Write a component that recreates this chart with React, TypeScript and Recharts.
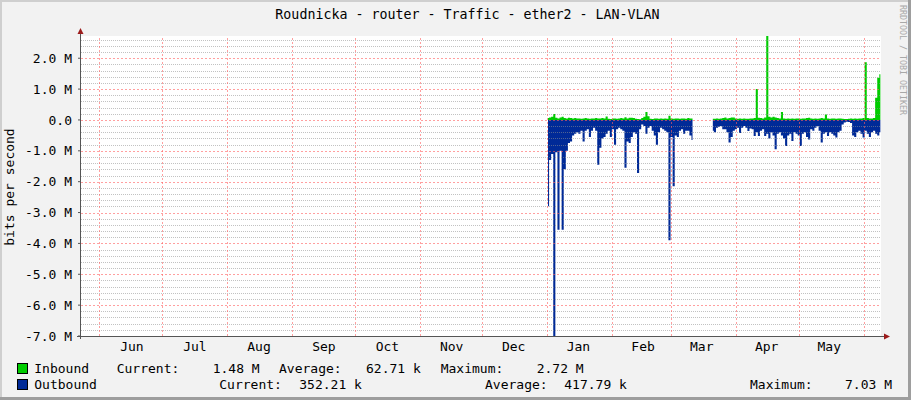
import React from 'react';
import { ComposedChart, Area, XAxis, YAxis, ReferenceLine } from 'recharts';

// one sample per day, values in Mbit/s
const start1 = 223; // first sample, Jan 1
const inbound1 = [
  0.06, 0.08, 0.1, 0.19, 0.07, 0.05, 0.08, 0.1, 0.06, 0.05,
  0.07, 0.06, 0.05, 0.06, 0.05, 0.05, 0.04, 0.05, 0.06, 0.05,
  0.04, 0.05, 0.05, 0.06, 0.05, 0.05, 0.06, 0.05, 0.11, 0.04,
  0.03, 0.05, 0.05, 0.04, 0.05, 0.06, 0.05, 0.09, 0.05, 0.07,
  0.07, 0.06, 0.04, 0.03, 0.02, 0.06, 0.1, 0.26, 0.12, 0.04,
  0.03, 0.05, 0.05, 0.04, 0.05, 0.04, 0.05, 0.04, 0.14, 0.05,
  0.04, 0.05, 0.05, 0.04, 0.05, 0.05, 0.04, 0.06, 0.05, 0.05,
];
const outbound1 = [
  -2.8, -1.3, -1.1, -7.03, -1.05, -3.56, -1.0, -3.56, -1.6, -1.0,
  -0.75, -0.7, -0.5, -0.45, -0.4, -0.45, -0.35, -0.7, -0.35, -0.3,
  -0.55, -0.35, -0.25, -0.35, -1.45, -0.9, -0.6, -0.55, -0.45, -0.35,
  -0.55, -0.3, -0.8, -0.3, -0.25, -0.3, -0.35, -1.55, -0.7, -0.75,
  -0.55, -0.4, -0.45, -1.72, -0.3, -0.15, -0.2, -0.45, -0.25, -0.2,
  -0.35, -0.5, -0.8, -0.4, -0.25, -0.3, -0.35, -0.4, -3.9, -0.55,
  -2.15, -0.5, -0.55, -0.35, -0.3, -0.45, -0.35, -0.35, -0.5, -0.65,
];

const start2 = 301.7; // after the outage in early March
const inbound2 = [
  0.04, 0.04, 0.05, 0.04, 0.05, 0.06, 0.08, 0.05, 0.06, 0.08,
  0.08, 0.05, 0.04, 0.05, 0.04, 0.05, 0.04, 0.04, 0.05, 0.05,
  0.06, 1.0, 0.07, 0.06, 0.05, 0.08, 2.72, 0.1, 0.08, 0.1,
  0.08, 0.06, 0.05, 0.26, 0.05, 0.04, 0.05, 0.04, 0.05, 0.04,
  0.05, 0.05, 0.04, 0.05, 0.05, 0.06, 0.07, 0.05, 0.04, 0.05,
  0.04, 0.05, 0.06, 0.05, 0.18, 0.05, 0.04, 0.05, 0.05, 0.04,
  0.05, 0.05, 0.04, 0.03, 0.03, 0.04, 0.05, 0.04, 0.05, 0.04,
  0.05, 0.05, 0.06, 1.87, 0.06, 0.05, 0.05, 0.06, 0.72, 1.37,
  1.48,
];
const outbound2 = [
  -0.35, -0.4, -0.25, -0.22, -0.2, -0.3, -0.3, -0.4, -0.73, -0.55,
  -0.35, -0.3, -0.25, -0.42, -0.25, -0.2, -0.25, -0.36, -0.28, -0.3,
  -0.52, -0.4, -0.52, -0.35, -0.3, -0.52, -0.45, -0.6, -0.4, -0.5,
  -0.95, -0.45, -0.4, -0.5, -0.6, -0.84, -0.5, -0.45, -0.68, -0.4,
  -0.45, -0.5, -0.84, -0.45, -0.4, -0.55, -0.63, -0.3, -0.35, -0.25,
  -0.2, -0.35, -0.73, -0.45, -0.4, -0.52, -0.4, -0.45, -0.5, -0.57,
  -0.4, -0.35, -0.15, -0.08, -0.06, -0.07, -0.1, -0.5, -0.55, -0.4,
  -0.35, -0.45, -0.57, -0.35, -0.45, -0.55, -0.4, -0.35, -0.45, -0.5,
  -0.4,
];

const monthStarts = [8.7, 38.7, 69.7, 100.7, 130.7, 161.7, 191.7, 222.7, 253.7, 281.7, 312.7, 342.7, 373.7];
const monthTicks = [24.3, 54.4, 85, 116, 146.3, 177, 206.6, 237.5, 268.4, 296.4, 327.4, 357.3];
const monthLabels = ['Jun', 'Jul', 'Aug', 'Sep', 'Oct', 'Nov', 'Dec', 'Jan', 'Feb', 'Mar', 'Apr', 'May'];
const yTicks = [-7, -6, -5, -4, -3, -2, -1, 0, 1, 2];

const minorY: number[] = [];
for (let k = -35; k <= 13; k++) {
  if (k % 5 !== 0) minorY.push(k / 5);
}

type Row = { day: number; inb: number | null; outb: number | null };
const rows: Row[] = [
  ...inbound1.map((v, i) => ({ day: start1 + i, inb: v, outb: outbound1[i] })),
  { day: (start1 + inbound1.length - 1 + start2) / 2, inb: null, outb: null },
  ...inbound2.map((v, i) => ({ day: start2 + i, inb: v, outb: outbound2[i] })),
];

const FONT = '"DejaVu Sans Mono", monospace';
const GREEN = '#00cc00';
const BLUE = '#002a97';
const ARROW = '#9c1c1c';
const AXIS = '#555555';

// dotted grid line snapped to the pixel grid, like rrdtool draws it
const gridLine = (color: string, opacity: number, dash: string) => (p: any) => {
  const vertical = Math.abs(p.x1 - p.x2) < 0.01;
  const x1 = vertical ? Math.round(p.x1) + 0.5 : p.x1;
  const x2 = vertical ? Math.round(p.x2) + 0.5 : p.x2;
  const y1 = vertical ? p.y1 : Math.round(p.y1) + 0.5;
  const y2 = vertical ? p.y2 : Math.round(p.y2) + 0.5;
  return (
    <line
      x1={x1}
      y1={y1}
      x2={x2}
      y2={y2}
      stroke={color}
      strokeOpacity={opacity}
      strokeWidth={1}
      strokeDasharray={dash}
      shapeRendering="crispEdges"
    />
  );
};
const minorShape = gridLine('#8f8f8f', 0.55, '1 1');
const majorShape = gridLine('#ff5f5f', 0.6, '2 2');

const fmtY = (v: number) => (v === 0 ? '0.0' : `${v.toFixed(1)} M`);
const fmtX = (v: number) => monthLabels[monthTicks.indexOf(v)] ?? '';

const txt = { fontFamily: FONT, fontSize: 13, fill: '#000' };

export default function App() {
  return (
    <div style={{ position: 'absolute', left: 0, top: 0, width: 911, height: 400, background: '#f2f2f2', overflow: 'hidden' }}>
      <div style={{ position: 'absolute', left: 81, top: 36, width: 800, height: 300, background: '#ffffff' }} />
      <div style={{ position: 'absolute', left: 0, top: 0 }}>
        <ComposedChart width={911} height={400} data={rows} margin={{ top: 36, right: 30, bottom: 34, left: 0 }}>
          <XAxis
            dataKey="day"
            type="number"
            domain={[0, 382]}
            allowDataOverflow
            ticks={monthTicks}
            interval={0}
            tickFormatter={fmtX}
            height={30}
            tickSize={0}
            tickMargin={6}
            axisLine={false}
            tickLine={false}
            tick={txt}
          />
          <YAxis
            type="number"
            domain={[-7, 2.72]}
            allowDataOverflow
            ticks={yTicks}
            interval={0}
            tickFormatter={fmtY}
            width={81}
            tickSize={3}
            tickMargin={6}
            axisLine={false}
            tickLine={{ stroke: AXIS }}
            tick={txt}
          />
          <Area
            dataKey="inb"
            type="step"
            baseValue={0}
            stroke="none"
            fill={GREEN}
            fillOpacity={1}
            connectNulls={false}
            isAnimationActive={false}
            dot={false}
            activeDot={false}
          />
          <Area
            dataKey="outb"
            type="step"
            baseValue={0}
            stroke="none"
            fill={BLUE}
            fillOpacity={1}
            connectNulls={false}
            isAnimationActive={false}
            dot={false}
            activeDot={false}
          />
          {minorY.map((v) => (
            <ReferenceLine key={`n${v}`} y={v} shape={minorShape} />
          ))}
          {yTicks.map((v) => (
            <ReferenceLine key={`m${v}`} y={v} shape={majorShape} />
          ))}
          {monthStarts.map((d) => (
            <ReferenceLine key={`v${d}`} x={d} shape={majorShape} />
          ))}
        </ComposedChart>
      </div>
      <svg width={911} height={400} style={{ position: 'absolute', left: 0, top: 0, pointerEvents: 'none' }}>
        {/* frame */}
        <rect x={0} y={0} width={911} height={2} fill="#cfcfcf" />
        <rect x={0} y={0} width={2} height={400} fill="#cfcfcf" />
        <rect x={0} y={397} width={911} height={3} fill="#9e9e9e" />
        <rect x={908} y={0} width={3} height={400} fill="#9e9e9e" />

        <text x={467.5} y={19} textAnchor="middle" style={{ ...txt, fontSize: 13.3 }}>
          Roudnicka - router - Traffic - ether2 - LAN-VLAN
        </text>
        <text x={13.5} y={187} textAnchor="middle" transform="rotate(-90 13.5 187)" style={txt}>
          bits per second
        </text>
        <text x={900} y={5} transform="rotate(90 900 5)" style={{ fontFamily: FONT, fontSize: 8.3, fill: '#a8a8a8' }}>
          RRDTOOL / TOBI OETIKER
        </text>

        {/* axes with arrows */}
        <line x1={80.5} y1={339} x2={80.5} y2={31} stroke={AXIS} />
        <polygon points="77.5,34 83.5,34 80.5,28" fill={ARROW} />
        <line x1={77} y1={336.5} x2={885} y2={336.5} stroke={AXIS} />
        <polygon points="884,333.5 884,339.5 890,336.5" fill={ARROW} />

        {/* legend */}
        <rect x={17.5} y={363.5} width={10} height={10} fill={GREEN} stroke="#000" />
        <text x={34.3} y={373} style={txt}>Inbound</text>
        <text x={116.7} y={373} style={txt}>Current:</text>
        <text x={212.7} y={373} style={txt}>1.48 M</text>
        <text x={279} y={373} style={txt}>Average:</text>
        <text x={366} y={373} style={txt}>62.71 k</text>
        <text x={440.7} y={373} style={txt}>Maximum:</text>
        <text x={536.7} y={373} style={txt}>2.72 M</text>

        <rect x={17.5} y={379.5} width={10} height={10} fill={BLUE} stroke="#000" />
        <text x={34.3} y={389} style={txt}>Outbound</text>
        <text x={219.3} y={389} style={txt}>Current:</text>
        <text x={299.3} y={389} style={txt}>352.21 k</text>
        <text x={485} y={389} style={txt}>Average:</text>
        <text x={564.3} y={389} style={txt}>417.79 k</text>
        <text x={750} y={389} style={txt}>Maximum:</text>
        <text x={845} y={389} style={txt}>7.03 M</text>
      </svg>
    </div>
  );
}
